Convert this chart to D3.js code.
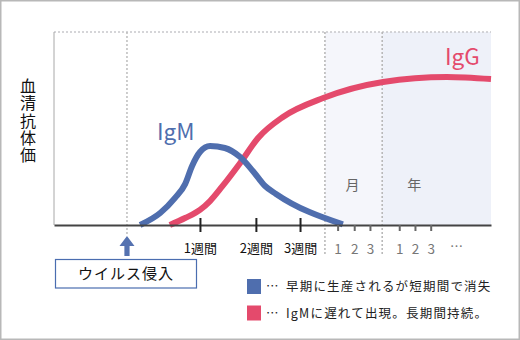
<!DOCTYPE html>
<html><head><meta charset="utf-8">
<script src="https://cdn.jsdelivr.net/npm/d3@7/dist/d3.min.js"></script>
<style>
html,body{margin:0;padding:0;background:#fff;}
svg{display:block;font-family:"Noto Sans CJK JP","Noto Sans",sans-serif;}
</style></head>
<body>
<svg id="chart" width="520" height="340"></svg>
<script>
// ---- data (x in arbitrary time units 0-100, y in relative titre 0-100) ----
const igmX = [19.7, 24.3, 27.7, 30.0, 31.6, 33.4, 35.7, 39.1, 42.6, 45.5, 48.3, 50.8, 66.1];
const igmY = [0, 6.2, 14.0, 21.2, 30.6, 37.8, 40.9, 39.9, 35.2, 28.0, 20.2, 16.1, 0.3];
const iggX = [26.5, 30.0, 33.4, 35.7, 38.4, 42.6, 46.7, 52.4, 61.6, 75.3, 89.9, 100];
const iggY = [0, 3.6, 7.8, 12.4, 19.7, 32.1, 45.1, 56.0, 65.8, 74.1, 76.7, 75.6];
const infectionX = 16.7;
const weekTicks = [33.4, 46.2, 56.3];
const weekLabels = ["1週間", "2週間", "3週間"];
const monthStart = 62.0, yearStart = 75.1;
const monthTicks = [64.9, 68.7, 72.3];
const yearTicks = [79.0, 82.6, 86.2];
const smallLabels = ["1", "2", "3"];
const ellipsisX = 90.6;
const yLabel = "血清抗体価";
const legendLabels = ["早期に生産されるが短期間で消失", "IgMに遅れて出現。長期間持続。"];

const blue = "#4f6eae", red = "#e44a6c";
const svg = d3.select("#chart");
const W = 520, H = 340;
const m = {left: 54, right: 29, top: 32, bottom: 115};
const x = d3.scaleLinear().domain([0, 100]).range([m.left, W - m.right]);
const y = d3.scaleLinear().domain([0, 100]).range([H - m.bottom, m.top]);
const y0 = y(0);
const jp = "'Noto Sans CJK JP',sans-serif";

// outer frame
svg.append("rect").attr("x", 0.75).attr("y", 0.75).attr("width", W - 1.5).attr("height", H - 1.5)
  .attr("fill", "#fff").attr("stroke", "#b8b8b8").attr("stroke-width", 1.5);

// shaded regions
svg.append("rect").attr("x", x(monthStart)).attr("y", y(100)).attr("width", x(yearStart) - x(monthStart))
  .attr("height", y0 - y(100)).attr("fill", "#f5f6fb");
svg.append("rect").attr("x", x(yearStart)).attr("y", y(100)).attr("width", x(100) - x(yearStart))
  .attr("height", y0 - y(100)).attr("fill", "#eef1f9");

// top dotted line
svg.append("line").attr("x1", x(0)).attr("x2", x(100)).attr("y1", y(100)).attr("y2", y(100))
  .attr("stroke", "#c8c8cc").attr("stroke-width", 1.5).attr("stroke-dasharray", "2,2");
// vertical dotted lines
svg.append("line").attr("x1", x(infectionX)).attr("x2", x(infectionX)).attr("y1", y(100)).attr("y2", y0 + 10)
  .attr("stroke", "#bdbdbd").attr("stroke-width", 1.5).attr("stroke-dasharray", "2,2");
[monthStart, yearStart].forEach(v => {
  svg.append("line").attr("x1", x(v)).attr("x2", x(v)).attr("y1", y(100)).attr("y2", y0 + 30)
    .attr("stroke", "#b5b5b5").attr("stroke-width", 1.5).attr("stroke-dasharray", "2,2");
});
// left axis
svg.append("line").attr("x1", x(0)).attr("x2", x(0)).attr("y1", y(100)).attr("y2", y0)
  .attr("stroke", "#a8a8a8").attr("stroke-width", 1);

// curves
const line = d3.line().x(d => x(d[0])).y(d => y(d[1])).curve(d3.curveMonotoneX);
svg.append("path").attr("d", line(iggX.map((v, i) => [v, iggY[i]])))
  .attr("fill", "none").attr("stroke", red).attr("stroke-width", 6);
svg.append("path").attr("d", line(igmX.map((v, i) => [v, igmY[i]])))
  .attr("fill", "none").attr("stroke", blue).attr("stroke-width", 6);

// baseline axis with week ticks
const weekAxis = d3.axisBottom(x).tickValues(weekTicks).tickFormat((d, i) => weekLabels[i])
  .tickSizeInner(7).tickSizeOuter(0).tickPadding(12);
const gw = svg.append("g").attr("transform", `translate(0,${y0})`).call(weekAxis);
gw.select(".domain").attr("stroke", "#444").attr("stroke-width", 2.2);
gw.selectAll(".tick line").attr("y1", -7).attr("y2", 7).attr("stroke", "#222").attr("stroke-width", 2);
gw.selectAll(".tick text").attr("font-size", 13).attr("fill", "#111").attr("font-family", jp);

// month/year small ticks
const smallAxis = d3.axisBottom(x).tickValues(monthTicks.concat(yearTicks))
  .tickFormat((d, i) => smallLabels[i % 3]).tickSizeInner(6).tickSizeOuter(0).tickPadding(13);
const gs = svg.append("g").attr("transform", `translate(0,${y0})`).call(smallAxis);
gs.select(".domain").remove();
gs.selectAll(".tick line").attr("stroke", "#666").attr("stroke-width", 2);
gs.selectAll(".tick text").attr("font-size", 13.5).attr("fill", "#777").attr("font-family", jp);
svg.append("text").attr("x", x(ellipsisX)).attr("y", y0 + 26).attr("font-size", 13)
  .attr("font-family", jp).attr("fill", "#777").text("…");

// region labels
svg.append("text").attr("x", (x(monthStart) + x(yearStart)) / 2 - 1).attr("y", y0 - 35)
  .attr("text-anchor", "middle").attr("font-size", 14).attr("fill", "#666").text("月");
svg.append("text").attr("x", x(yearStart) + 32).attr("y", y0 - 35)
  .attr("text-anchor", "middle").attr("font-size", 14).attr("fill", "#666").text("年");

// series labels
svg.append("text").attr("x", 157).attr("y", 140).attr("font-size", 22.5).attr("fill", blue)
  .attr("font-family", jp).text("IgM");
svg.append("text").attr("x", 445).attr("y", 65).attr("font-size", 22.5).attr("fill", red)
  .attr("font-family", jp).text("IgG");

// y label (vertical)
svg.append("text").attr("x", 28).attr("y", 78).attr("font-size", 16).attr("fill", "#111")
  .attr("font-family", jp).style("writing-mode", "vertical-rl").attr("letter-spacing", 1.3)
  .text(yLabel);

// infection arrow
const ax = x(infectionX), at = y0 + 11;
svg.append("path")
  .attr("d", `M${ax},${at} L${ax + 7.5},${at + 10} L${ax + 2.6},${at + 10} L${ax + 2.6},${at + 20} L${ax - 2.6},${at + 20} L${ax - 2.6},${at + 10} L${ax - 7.5},${at + 10} Z`)
  .attr("fill", "#5572b0");
svg.append("rect").attr("x", 55.5).attr("y", 259.5).attr("width", 141).attr("height", 28.5)
  .attr("fill", "#fff").attr("stroke", "#4a6db0").attr("stroke-width", 1.2);
svg.append("text").attr("x", 126).attr("y", 279).attr("text-anchor", "middle").attr("font-size", 15)
  .attr("letter-spacing", 1).attr("fill", "#111").text("ウイルス侵入");

// legend
[blue, red].forEach((c, i) => {
  const ly = 279 + i * 26.5;
  svg.append("rect").attr("x", 247).attr("y", ly).attr("width", 14).attr("height", 15).attr("fill", c);
  svg.append("text").attr("x", 266).attr("y", ly + 12).attr("font-size", 12.5).attr("fill", "#222")
    .attr("font-family", jp).text("…");
  svg.append("text").attr("x", 286).attr("y", ly + 12).attr("font-size", 12.5).attr("fill", "#222")
    .attr("font-family", jp).attr("letter-spacing", 1.2).text(legendLabels[i]);
});
</script>
</body></html>
